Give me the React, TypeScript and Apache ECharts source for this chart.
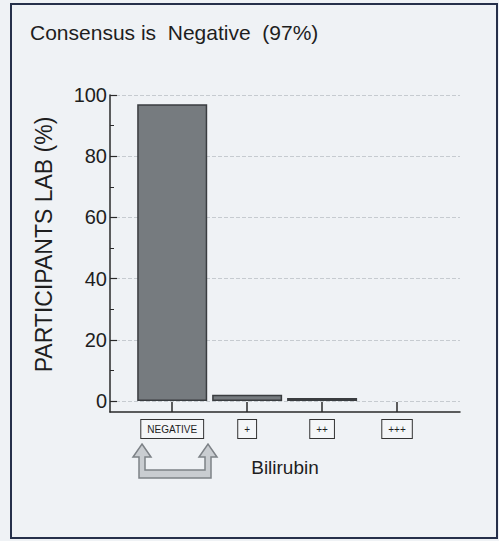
import React, { useEffect, useRef } from "react";
import * as echarts from "echarts";

const titleText = "Consensus is  Negative  (97%)";
const categories = ["NEGATIVE", "+", "++", "+++"];
const categoryPositions = [0, 1, 2, 3];
const values = [97, 2, 1, 0];
const yTicks = [0, 20, 40, 60, 80, 100];
const yMinorTicks = [10, 30, 50, 70, 90];
const yAxisTitle = "PARTICIPANTS LAB (%)";
const xAxisTitle = "Bilirubin";

const FONT = "'Liberation Sans', Arial, sans-serif";

export default function App() {
  const ref = useRef<HTMLDivElement>(null);

  useEffect(() => {
    if (!ref.current) return;
    const chart = echarts.init(ref.current, null, { renderer: "svg" });
    const data = categoryPositions.map((x, i) => ({
      value: [x, values[i]],
      itemStyle: values[i] === 0 ? { borderWidth: 0, opacity: 0 } : undefined,
    }));
    chart.setOption({
      animation: false,
      backgroundColor: "#eff2f5",
      textStyle: { fontFamily: FONT },
      title: {
        text: titleText,
        left: 25,
        top: 17,
        textStyle: { fontSize: 21, fontWeight: "normal", color: "#1e1e1e", fontFamily: FONT },
      },
      grid: { left: 110, right: 39, top: 95, bottom: 129 },
      xAxis: {
        type: "value",
        min: -0.83,
        max: 3.84,
        name: xAxisTitle,
        nameLocation: "middle",
        nameGap: 46,
        nameTextStyle: { fontSize: 19, color: "#1e1e1e", fontFamily: FONT },
        axisLine: { show: true, onZero: false, lineStyle: { color: "#2a2a2a", width: 1.5 } },
        axisTick: { show: true, inside: true, length: 10, customValues: categoryPositions, lineStyle: { color: "#2a2a2a", width: 1.5 } },
        axisLabel: {
          customValues: categoryPositions,
          formatter: (v: number) => categories[Math.round(v)] ?? "",
          fontSize: 10,
          color: "#1e1e1e",
          fontFamily: FONT,
          borderColor: "#333",
          borderWidth: 1,
          padding: [4, 6, 4, 6],
          backgroundColor: "#f4f6f8",
          margin: 8,
        },
        splitLine: { show: false },
      },
      yAxis: [
        {
          type: "value",
          min: -3.6,
          max: 100,
          name: yAxisTitle,
          nameLocation: "middle",
          nameGap: 55,
          nameTextStyle: { fontSize: 23, color: "#1e1e1e", fontFamily: FONT, padding: [0, 0, 0, 18] },
          axisLine: { show: true, onZero: false, lineStyle: { color: "#2a2a2a", width: 1.5 } },
          axisTick: { show: true, inside: true, length: 7, customValues: yTicks, lineStyle: { color: "#2a2a2a", width: 1.2 } },
          axisLabel: { customValues: yTicks, fontSize: 20, color: "#1e1e1e", margin: 3, fontFamily: FONT },
          splitLine: { show: true, lineStyle: { color: "#c6cbd0", type: "dashed", width: 1 } },
        },
        {
          type: "value",
          min: -3.6,
          max: 100,
          position: "left",
          axisLine: { show: false, onZero: false },
          axisTick: { show: true, inside: true, length: 4, customValues: yMinorTicks, lineStyle: { color: "#2a2a2a", width: 1 } },
          axisLabel: { show: false },
          splitLine: { show: false },
        },
      ],
      series: [
        {
          type: "bar",
          yAxisIndex: 0,
          barWidth: 70,
          data,
          itemStyle: { color: "#767b7f", borderColor: "#3a3d40", borderWidth: 1.5 },
        },
      ],
      graphic: [
        {
          type: "rect",
          shape: { x: 11, y: 4, width: 486, height: 534 },
          style: { fill: "none", stroke: "#26304a", lineWidth: 2 },
          silent: true,
        },
        {
          type: "polygon",
          shape: {
            points: [
              [142, 444], [151, 457], [145, 457], [145, 470], [205, 470], [205, 457], [199, 457],
              [208, 444], [217, 457], [211, 457], [211, 478], [139, 478], [139, 457], [133, 457],
            ],
          },
          style: { fill: "#c9cdd1", stroke: "#7d8287", lineWidth: 1.5 },
          silent: true,
        },
      ],
    });
    return () => chart.dispose();
  }, []);

  return (
    <div
      ref={ref}
      style={{ position: "fixed", left: 0, top: 0, width: 499, height: 541 }}
    />
  );
}
